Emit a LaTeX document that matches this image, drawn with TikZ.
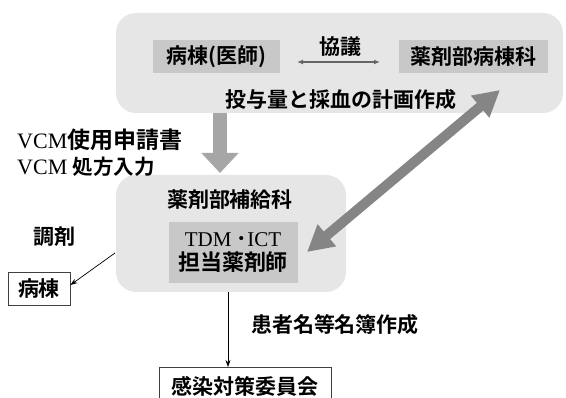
\documentclass[tikz,border=0pt]{standalone}
\usepackage{fontspec}
\setmainfont{Liberation Serif}
\newfontfamily\jp{Noto Sans CJK JP}[BoldFont={Noto Sans CJK JP Bold}]
\usetikzlibrary{arrows.meta}
\definecolor{outerbg}{HTML}{E6E6E6}
\definecolor{innerbg}{HTML}{C8C8C8}
\definecolor{arrowlight}{HTML}{A6A6A6}
\definecolor{arrowdark}{HTML}{858585}
\newcommand{\jpf}{\jp\bfseries\fontsize{21}{24}\selectfont}
\begin{document}
\begin{tikzpicture}[x=1pt,y=-1pt,
  panel/.style={fill=outerbg,draw=none,rounded corners=20pt,inner sep=0pt},
  graybox/.style={fill=innerbg,draw=none,inner sep=0pt,font=\jpf},
  whitebox/.style={fill=white,draw=black!75,line width=0.8pt,inner sep=0pt,font=\jpf},
  lbl/.style={inner sep=0pt,font=\jpf},
  thin arrow/.style={-{Stealth[length=7pt,width=5pt]},line width=0.7pt,black}
]
\useasboundingbox (0,0) rectangle (566,398);
% panels
\node[panel,minimum width=447pt,minimum height=100pt] (top) at (339.5,63) {};
\node[panel,minimum width=230pt,minimum height=117pt] (mid) at (231,233.5) {};
% top boxes
\node[graybox,minimum width=127pt,minimum height=33pt] (doc) at (216.5,56.5) {病棟(医師)};
\node[graybox,minimum width=149pt,minimum height=33pt] (ward) at (473.5,56.5) {薬剤部病棟科};
\node[lbl] (kyogi) at (340,47) {協議};
\coordinate (ka) at (297,62);
\coordinate (kb) at (380,62);
\draw[{Latex[length=6pt,width=5pt]}-{Latex[length=6pt,width=5pt]},line width=1.5pt,black!60] (ka) -- (kb);
\node[lbl] (plan) at (341,100) {投与量と採血の計画作成};
% middle
\node[lbl] (supply) at (230,200) {薬剤部補給科};
\node[graybox,minimum width=129pt,minimum height=61pt,align=center] (tdm) at (233,252.5)
  {{\rmfamily\mdseries\fontsize{21}{25}\selectfont TDM {\jpf ･}ICT}\\[0pt]{\fontsize{22}{24}\selectfont 担当薬剤師}};
% left texts
\node[lbl,anchor=west] (vcm1) at (17,140) {{\rmfamily\mdseries\fontsize{22}{24}\selectfont VCM}{\fontsize{23}{24}\selectfont 使用申請書}};
\node[lbl,anchor=west] (vcm2) at (17,167) {{\rmfamily\mdseries\fontsize{22}{24}\selectfont VCM }{\fontsize{20.5}{24}\selectfont 処方入力}};
\node[lbl] (chozai) at (55,237) {調剤};
\node[whitebox,minimum width=62pt,minimum height=33pt] (byoto) at (39,288.5) {病棟};
\node[lbl] (meibo) at (335,325) {患者名等名簿作成};
\node[whitebox,minimum width=172pt,minimum height=44pt,anchor=north] (iinkai) at (245,367) {};
\node[lbl] (iinkaitxt) at (245,386) {感染対策委員会};
% big arrows
\coordinate (da) at (220,113);
\coordinate (db) at (220,173);
\draw[-{Triangle[length=20pt,width=36pt]},line width=14pt,arrowlight] (da) -- (db);
\coordinate (ga) at (307,252);
\coordinate (gb) at (500,90);
\draw[{Triangle[length=26pt,width=27pt]}-{Triangle[length=26pt,width=27pt]},line width=10pt,arrowdark] (ga) -- (gb);
% thin arrows
\coordinate (ma) at (115,253);
\draw[thin arrow] (ma) -- (byoto.east |- 0,285);
\draw[thin arrow] (mid.south -| 228,0) -- (iinkai.north -| 228,0);
\end{tikzpicture}
\end{document}
